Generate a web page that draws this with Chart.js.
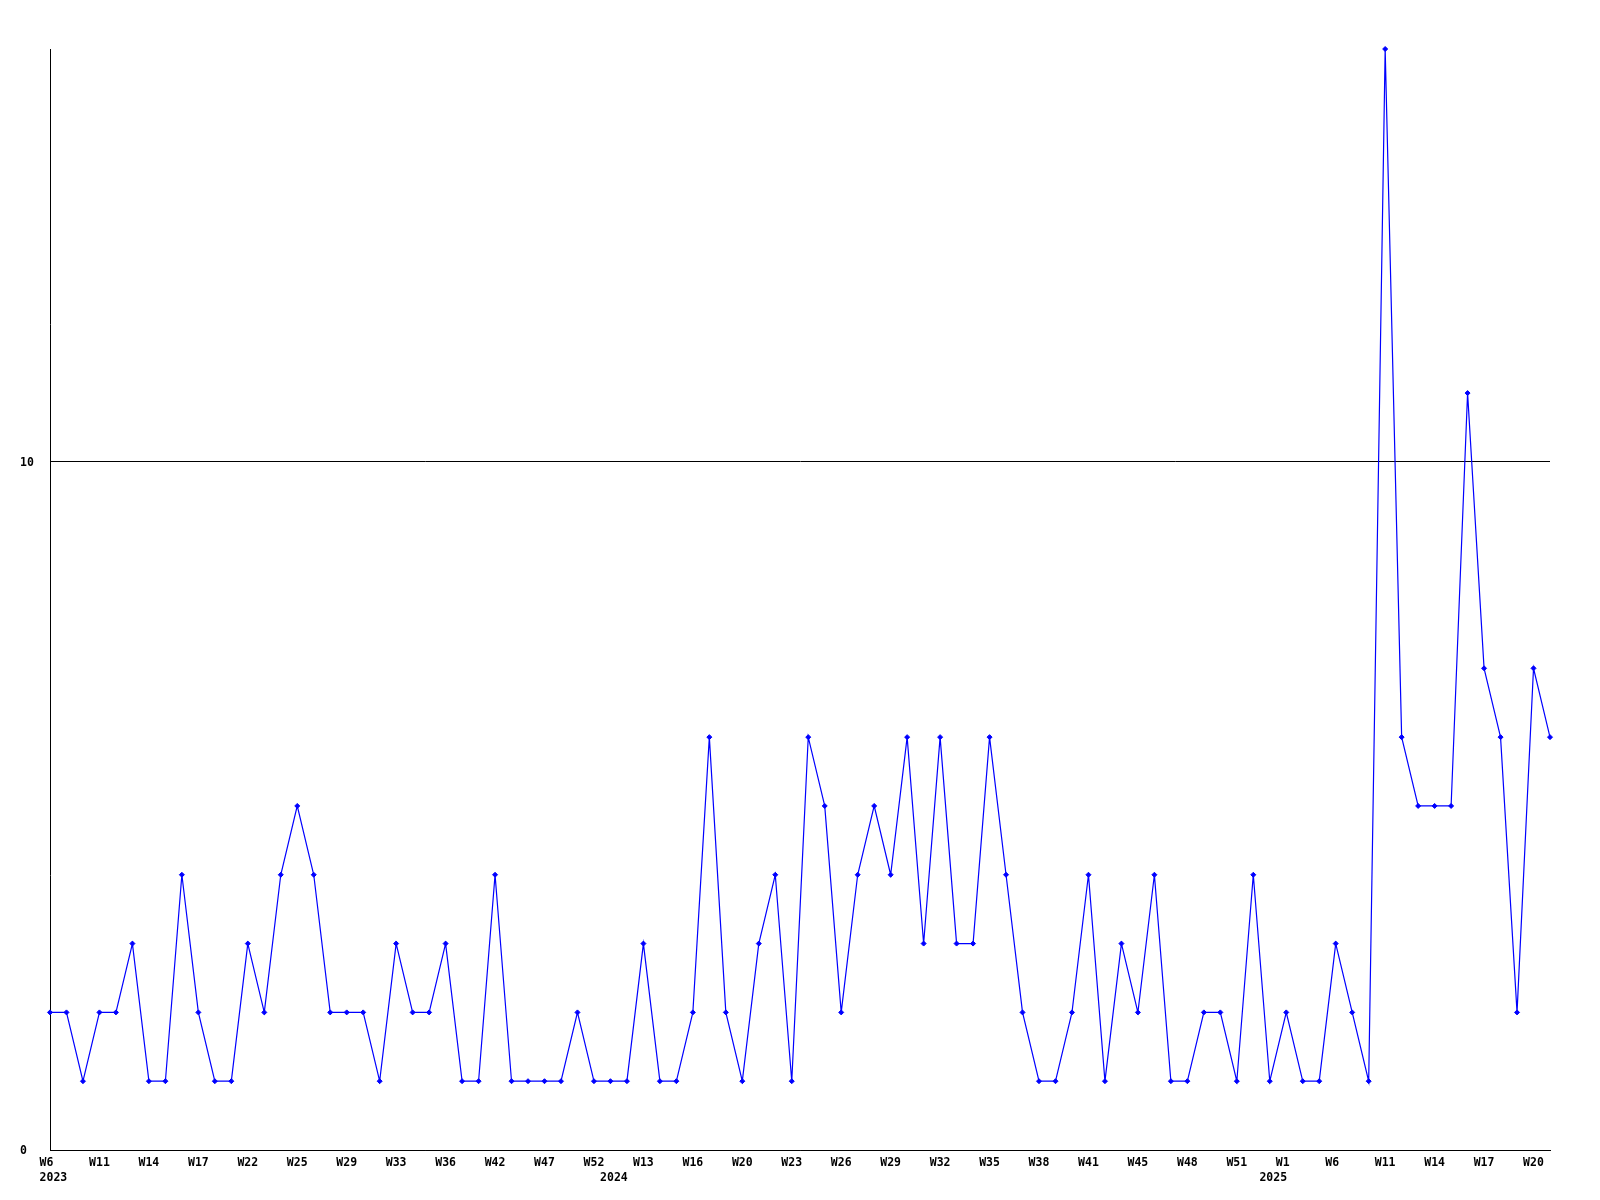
<!DOCTYPE html>
<html>
<head>
<meta charset="utf-8">
<script src="https://cdn.jsdelivr.net/npm/chart.js@4/dist/chart.umd.min.js"></script>
<style>
  body { margin: 0; background: #ffffff; }
</style>
</head>
<body>
<canvas id="weeks-canvas" width="1600" height="1200"></canvas>
<script>
// one value per week that had data
const counts = [
    2, 2, 1, 2, 2, 3, 1, 1, 4, 2, 1, 1, 3, 2, 4, 5, 4, 2, 2, 2, 1, 3, 2, 2,
    3, 1, 1, 4, 1, 1, 1, 1, 2, 1, 1, 1, 3, 1, 1, 2, 6, 2, 1, 3, 4, 1, 6, 5,
    2, 4, 5, 4, 6, 3, 6, 3, 3, 6, 4, 2, 1, 1, 2, 4, 1, 3, 2, 4, 1, 1, 2, 2,
    1, 4, 1, 2, 1, 1, 3, 2, 1, 16, 6, 5, 5, 5, 11, 7, 6, 2, 7, 6
];
// week label shown under every third point
const week_ticks = [
    'W6', 'W11', 'W14', 'W17', 'W22', 'W25', 'W29', 'W33', 'W36', 'W42', 'W47',
    'W52', 'W13', 'W16', 'W20', 'W23', 'W26', 'W29', 'W32', 'W35', 'W38', 'W41',
    'W45', 'W48', 'W51', 'W1', 'W6', 'W11', 'W14', 'W17', 'W20'
];
const year_ticks = ['2023', '2024', '2025'];
const year_index = [0, 34, 74];
const y_ticks = [0, 10];

const labels = counts.map((c, i) => {
    const week = i % 3 === 0 ? week_ticks[i / 3] : '';
    const y = year_index.indexOf(i);
    return [week, y >= 0 ? year_ticks[y] : ''];
});

const tick_font = {family: "'DejaVu Sans Mono', monospace", size: 11.5, weight: 'bold', lineHeight: '15px'};

const weeks_config = {
    type: 'line',
    data: {
        labels: labels,
        datasets: [
            {
                data: counts,
                borderColor: '#0000ff',
                backgroundColor: '#0000ff',
                borderWidth: 1.2,
                fill: false,
                clip: false,
                tension: 0,
                pointStyle: 'rectRot',
                pointRadius: 2.5,
                pointBorderWidth: 1,
                pointHoverRadius: 2.5
            }
        ]
    },
    options: {
        responsive: false,
        animation: false,
        layout: {
            padding: {left: 20, top: 49, right: 50, bottom: 0}
        },
        plugins: {
            legend: {display: false},
            title: {display: false},
            tooltip: {enabled: false}
        },
        events: [],
        scales: {
            x: {
                grid: {display: false, drawTicks: false},
                border: {display: true, color: '#000000', width: 1},
                afterFit: scale => { scale.height = 50; },
                ticks: {
                    autoSkip: false,
                    maxRotation: 0,
                    minRotation: 0,
                    align: 'start',
                    labelOffset: -10.4,
                    padding: 6,
                    color: '#000000',
                    font: tick_font
                }
            },
            y: {
                min: 0,
                max: 16,
                afterFit: scale => { scale.width = 30; },
                afterBuildTicks: scale => {
                    scale.ticks = y_ticks.map(v => ({value: v}));
                },
                grid: {
                    drawTicks: false,
                    color: '#000000',
                    lineWidth: 1
                },
                border: {display: true, color: '#000000', width: 1},
                ticks: {
                    crossAlign: 'far',
                    padding: 0,
                    labelOffset: 1.5,
                    color: '#000000',
                    font: tick_font
                }
            }
        }
    }
};

const weeks_ctx = document.getElementById('weeks-canvas');
let weeks_chart = new Chart(weeks_ctx, weeks_config);
</script>
</body>
</html>
